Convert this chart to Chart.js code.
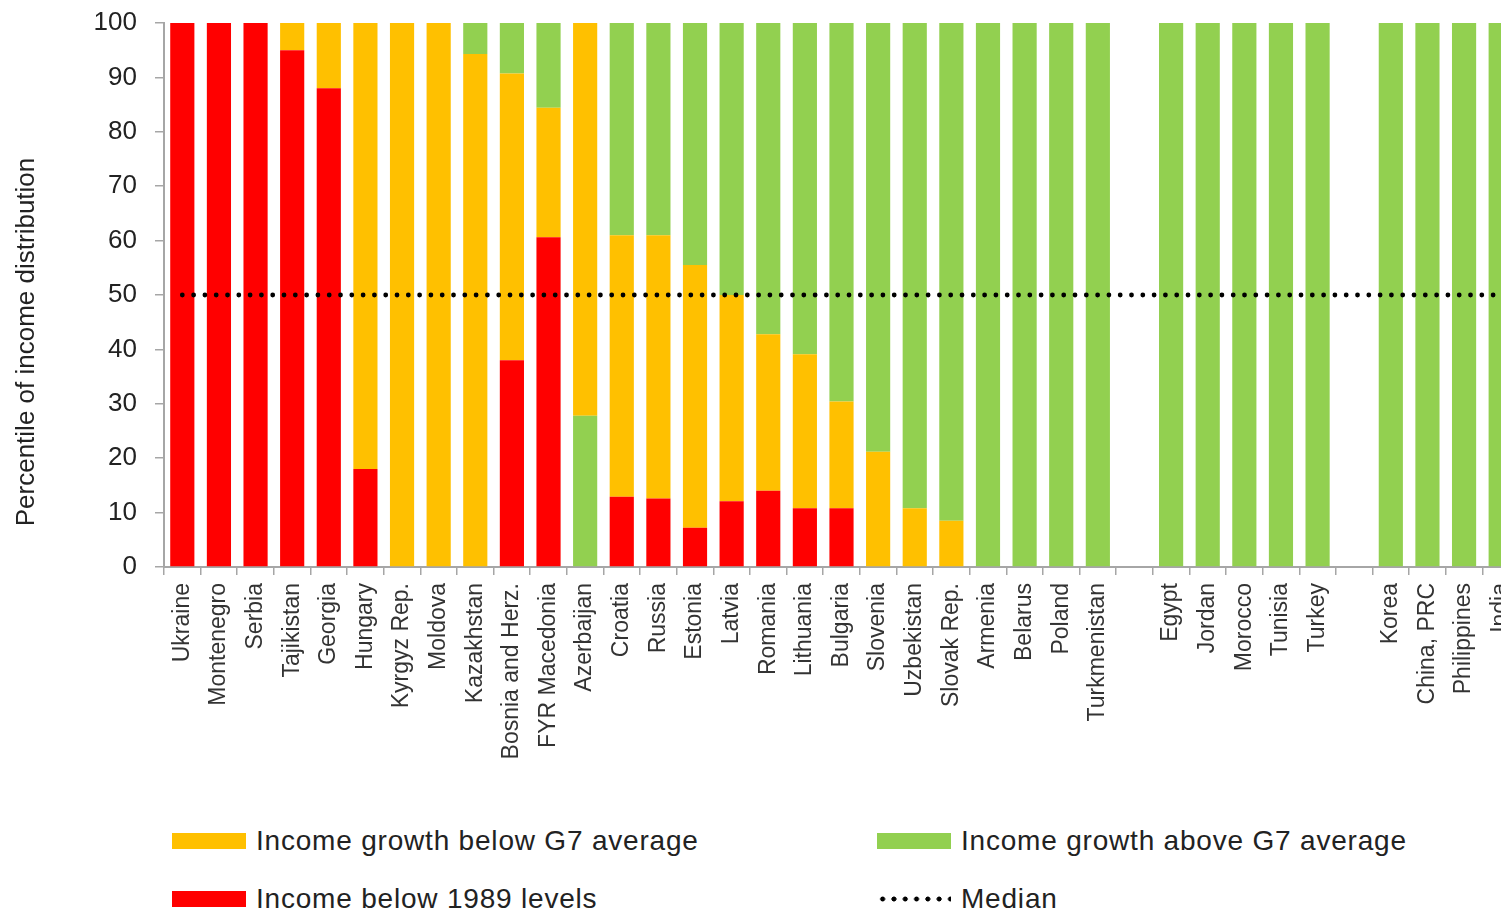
<!DOCTYPE html>
<html>
<head>
<meta charset="utf-8">
<script src="https://cdn.jsdelivr.net/npm/chart.js@4/dist/chart.umd.min.js"></script>
<style>
  body { margin: 0; background: #fff; overflow: hidden; width: 1501px; height: 911px; position: relative; }
  #wrap { position: absolute; left: 0; top: 0; width: 1519px; height: 780px; }
  .item { position: absolute; display: flex; align-items: center; font: 28px 'Liberation Sans', Arial, sans-serif; letter-spacing: 0.8px; color: #222; height: 34px; }
  .sw { width: 74px; height: 16px; margin-right: 10px; }
  .dots { width: 74px; height: 6px; margin-right: 10px;
    background: radial-gradient(circle, #000 2.2px, transparent 2.8px) repeat-x;
    background-size: 11.3px 6px; }
</style>
</head>
<body>
<div id="wrap"><canvas id="myChart"></canvas></div>

<div class="item" style="left:172px; top:824px;"><div class="sw" style="background:#FFC000"></div>Income growth below G7 average</div>
<div class="item" style="left:877px; top:824px;"><div class="sw" style="background:#92D050"></div>Income growth above G7 average</div>
<div class="item" style="left:172px; top:882px;"><div class="sw" style="background:#FF0000"></div>Income below 1989 levels</div>
<div class="item" style="left:877px; top:882px;"><div class="dots"></div>Median</div>

<script>
// paises (vazios = espaço entre grupos)
const labels = ['Ukraine','Montenegro','Serbia','Tajikistan','Georgia','Hungary','Kyrgyz Rep.','Moldova',
  'Kazakhstan','Bosnia and Herz.','FYR Macedonia','Azerbaijan','Croatia','Russia','Estonia','Latvia',
  'Romania','Lithuania','Bulgaria','Slovenia','Uzbekistan','Slovak Rep.','Armenia','Belarus','Poland',
  'Turkmenistan','','Egypt','Jordan','Morocco','Tunisia','Turkey','','Korea','China, PRC','Philippines','India'];

// tamanho de cada segmento (pontos percentuais)
const below1989 = [100,100,100,95,88,18,0,0,0,38,60.6,0,12.9,12.6,7.2,12.1,14,10.8,10.8,0,0,0,0,0,0,0,
  null,0,0,0,0,0,null,0,0,0,0];
const aboveG7Low = [0,0,0,0,0,0,0,0,0,0,0,27.8,0,0,0,0,0,0,0,0,0,0,0,0,0,0,
  null,0,0,0,0,0,null,0,0,0,0];
const belowG7 = [0,0,0,5,12,82,100,100,94.3,52.7,23.8,72.2,48.1,48.4,48.3,37.9,28.8,28.3,19.6,21.2,10.8,8.5,0,0,0,0,
  null,0,0,0,0,0,null,0,0,0,0];
const aboveG7 = [0,0,0,0,0,0,0,0,5.7,9.3,15.6,0,39,39,44.5,50,57.2,60.9,69.6,78.8,89.2,91.5,100,100,100,100,
  null,100,100,100,100,100,null,100,100,100,100];
const median = labels.map(() => 50);

const red = '#FF0000';
const orange = '#FFC000';
const green = '#92D050';
const axisGray = '#a6a6a6';
const font = "'Liberation Sans', Arial, sans-serif";

// titulo do eixo y (um pouco abaixo do centro, como no original)
const yTitle = {
  id: 'yTitle',
  afterDraw(chart) {
    const ctx = chart.ctx;
    ctx.save();
    ctx.translate(27, 342);
    ctx.rotate(-Math.PI / 2);
    ctx.font = '26px ' + font;
    ctx.fillStyle = '#222';
    ctx.textAlign = 'center';
    ctx.textBaseline = 'middle';
    ctx.fillText('Percentile of income distribution', 0, 0);
    ctx.restore();
  }
};

const data = {
  labels: labels,
  datasets: [
    { type: 'line', label: 'Median', data: median, borderColor: '#000', borderWidth: 4.8,
      borderDash: [0, 11.3], borderCapStyle: 'round', pointRadius: 0, fill: false, order: 0 },
    { label: 'Income below 1989 levels', data: below1989, backgroundColor: red, order: 1 },
    { label: 'Income growth above G7 average (low)', data: aboveG7Low, backgroundColor: green, order: 1 },
    { label: 'Income growth below G7 average', data: belowG7, backgroundColor: orange, order: 1 },
    { label: 'Income growth above G7 average', data: aboveG7, backgroundColor: green, order: 1 }
  ]
};

const config = {
  type: 'bar',
  data: data,
  options: {
    responsive: true,
    maintainAspectRatio: false,
    animation: false,
    layout: { padding: { top: 23, right: 0, left: 0, bottom: 0 } },
    datasets: { bar: { barPercentage: 0.66, categoryPercentage: 1 } },
    plugins: {
      legend: { display: false },
      tooltip: { enabled: false }
    },
    scales: {
      x: {
        stacked: true,
        grid: { drawOnChartArea: false, tickLength: 8, color: axisGray, lineWidth: 1.5 },
        border: { color: axisGray, width: 2 },
        ticks: {
          minRotation: 90, maxRotation: 90, autoSkip: false, padding: 8,
          color: '#333', font: { family: font, size: 23 }
        },
        afterFit: s => { s.height = 213; s.paddingLeft = 0; s.paddingRight = 0; }
      },
      y: {
        stacked: true,
        min: 0, max: 100,
        grid: { drawOnChartArea: false, tickLength: 9, color: axisGray, lineWidth: 1.5 },
        border: { color: axisGray, width: 2 },
        ticks: {
          stepSize: 10, padding: 18, color: '#222',
          font: { family: font, size: 26 }
        },
        afterFit: s => { s.width = 164; s.paddingTop = 0; s.paddingBottom = 0; }
      }
    }
  },
  plugins: [yTitle]
};

const myChart = new Chart(document.getElementById('myChart'), config);
</script>
</body>
</html>
